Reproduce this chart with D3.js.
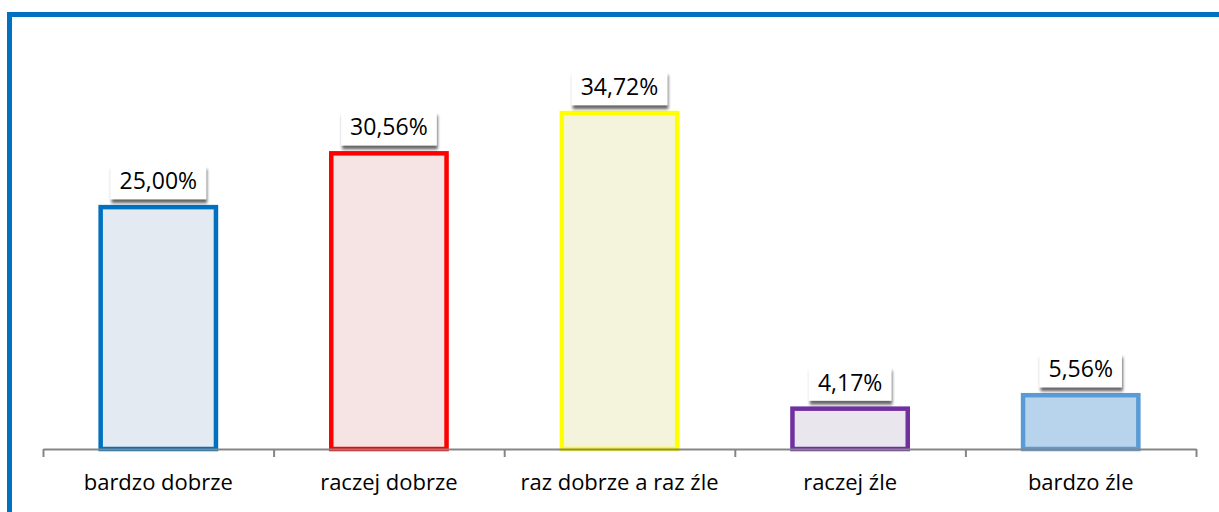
<!DOCTYPE html>
<html>
<head>
<meta charset="utf-8">
<script src="https://cdn.jsdelivr.net/npm/d3@7"></script>
<style>
  body { margin: 0; background: #fff; }
  text { font-family: "Open Sans", "Noto Sans", sans-serif; fill: #000; }
</style>
</head>
<body>
<div id="ui"></div>
<script>
// data
var categories = ["bardzo dobrze", "raczej dobrze", "raz dobrze a raz źle", "raczej źle", "bardzo źle"];
var values = [25.00, 30.56, 34.72, 4.17, 5.56];
var labels = ["25,00%", "30,56%", "34,72%", "4,17%", "5,56%"];
var strokes = ["#0070C0", "#FF0000", "#FFFF00", "#7030A0", "#5B9BD5"];
var fills = ["#E3EAF2", "#F6E4E4", "#F4F4DC", "#EAE6EE", "#B7D4EC"];

var w = 1219, h = 512;
var left = 43, right = 1196, base = 449;

var svg = d3.select("#ui").append("svg")
            .attr("width", w)
            .attr("height", h);

// shadow under the label boxes
var defs = svg.append("defs");
var f = defs.append("filter").attr("id", "shadow")
            .attr("x", "-20%").attr("y", "-20%").attr("width", "140%").attr("height", "160%");
f.append("feGaussianBlur").attr("in", "SourceAlpha").attr("stdDeviation", 1.5);
f.append("feOffset").attr("dx", 1).attr("dy", 4).attr("result", "b");
f.append("feComponentTransfer").append("feFuncA").attr("type", "linear").attr("slope", 0.6);
var m = f.append("feMerge");
m.append("feMergeNode");
m.append("feMergeNode").attr("in", "SourceGraphic");

// outer frame
svg.append("rect")
   .attr("x", 9.5).attr("y", 14.5)
   .attr("width", 1240).attr("height", 540)
   .attr("fill", "none")
   .attr("stroke", "#0070C0")
   .attr("stroke-width", 5);

var x = d3.scaleBand().domain(categories)
          .range([left, right])
          .paddingInner(0.5)
          .paddingOuter(0.25);

var y = d3.scaleLinear().domain([0, 40])
          .range([base, base - 387]);

// bars
svg.selectAll("rect.bar").data(values)
   .enter().append("rect")
   .attr("class", "bar")
   .attr("x", (d, i) => x(categories[i]))
   .attr("y", d => y(d))
   .attr("width", x.bandwidth())
   .attr("height", d => y(0) - y(d))
   .attr("fill", (d, i) => fills[i])
   .attr("stroke", (d, i) => strokes[i])
   .attr("stroke-width", 4.5);

// axis line with ticks at the category edges
var edges = d3.scaleLinear().domain([0, categories.length]).range([left, right]);
var xAxis = d3.axisBottom(edges)
              .tickValues(d3.range(categories.length + 1))
              .tickSize(8)
              .tickSizeOuter(0)
              .tickFormat("");
var ax = svg.append("g")
            .attr("transform", "translate(0," + base + ")")
            .call(xAxis);
ax.select(".domain").attr("stroke", "#868686").attr("stroke-width", 2);
ax.selectAll(".tick line").attr("stroke", "#868686").attr("stroke-width", 2);

// category names
var catAxis = d3.axisBottom(x).tickSize(0).tickPadding(25);
var cx = svg.append("g")
            .attr("transform", "translate(0," + base + ")")
            .call(catAxis);
cx.select(".domain").remove();
cx.selectAll("text")
  .style("font-family", "'Open Sans', 'Noto Sans', sans-serif")
  .style("font-size", "22px")
  .attr("fill", "#000");

// value labels in white boxes
var lab = svg.selectAll("g.lab").data(values)
             .enter().append("g")
             .attr("class", "lab")
             .attr("transform", (d, i) => "translate(" + (x(categories[i]) + x.bandwidth() / 2) + "," + (y(d) - 8) + ")");

lab.append("text")
   .attr("text-anchor", "middle")
   .attr("y", -10)
   .style("font-size", "23px")
   .text((d, i) => labels[i]);

lab.each(function () {
  var g = d3.select(this);
  var bb = g.select("text").node().getBBox();
  g.insert("rect", "text")
   .attr("x", bb.x - 9)
   .attr("y", -34)
   .attr("width", bb.width + 18)
   .attr("height", 34)
   .attr("fill", "#fff")
   .attr("filter", "url(#shadow)");
});
</script>
</body>
</html>
